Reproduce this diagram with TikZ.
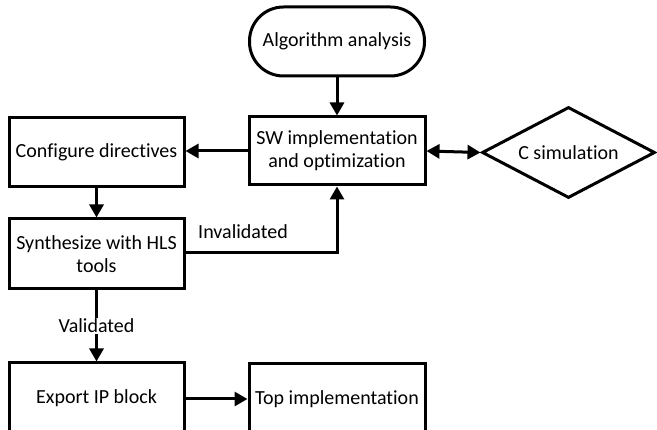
\documentclass[tikz,border=0pt]{standalone}
\usepackage{fontspec}
\setmainfont{Carlito}[Ligatures=NoCommon]
\usetikzlibrary{shapes.geometric,arrows.meta}
\begin{document}
\begin{tikzpicture}[x=1pt,y=-1pt,
  every node/.style={font=\fontsize{20}{23}\selectfont},
  box/.style={draw,line width=3pt,fill=white,minimum width=175pt,minimum height=69pt,inner sep=0pt,align=center},
  term/.style={box,rounded corners=34pt},
  decision/.style={draw,line width=3pt,diamond,aspect=1.9,minimum width=173pt,minimum height=91pt,inner sep=0pt,align=center},
  conn/.style={line width=3pt,-{Triangle[length=13pt,width=14pt]}},
  biconn/.style={line width=3pt,{Triangle[length=13pt,width=14pt]}-{Triangle[length=13pt,width=14pt]}},
  lbl/.style={fill=white,inner sep=1pt}]
\useasboundingbox (0,0) rectangle (657,430);
\clip (0,0) rectangle (657,430);
\node[term] (alg) at (337,41.5) {Algorithm analysis};
\node[box,minimum width=176pt,minimum height=68pt] (sw) at (337,151) {SW implementation\\and optimization};
\node[decision] (csim) at (568.5,152.5) {C simulation};
\node[box] (cfg) at (96.5,152.5) {Configure directives};
\node[box,minimum height=70pt] (syn) at (96.5,254) {Synthesize with HLS\\tools};
\node[box,minimum height=70pt] (exp) at (96.5,398) {Export IP block};
\node[box,minimum width=176pt,minimum height=70pt] (top) at (337,399) {Top implementation};
\coordinate (bend) at (337,253);
\draw[conn] (alg) -- (sw);
\draw[conn] (sw.west) -- (sw.west -| cfg.east);
\draw[biconn] (sw.east) -- (csim.west);
\draw[conn] (cfg) -- (syn);
\draw[conn] (syn.east |- bend) -- (bend) -- (sw.south);
\node[anchor=center] (inv) at (243,232) {Invalidated};
\draw[conn] (syn) -- node[lbl] (val) {Validated} (exp);
\draw[conn] (exp.east |- top.west) -- (top.west);
\end{tikzpicture}
\end{document}
